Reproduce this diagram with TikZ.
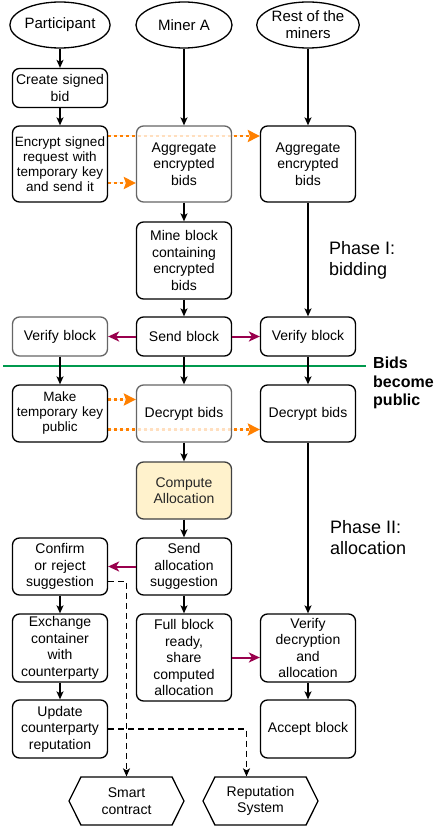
\documentclass[tikz,border=0pt]{standalone}
\usepackage{fontspec}
\setmainfont{Liberation Sans}
\usetikzlibrary{arrows.meta, shapes.geometric, shapes.symbols, backgrounds}

\definecolor{bidorange}{RGB}{255,128,0}
\definecolor{msgpurple}{RGB}{153,0,77}
\definecolor{phasegreen}{RGB}{0,153,77}
\definecolor{allocfill}{RGB}{255,242,204}

\tikzset{
  actor/.style={ellipse, draw, line width=1.3pt, minimum width=96pt, minimum height=46pt, inner sep=0pt, align=center, font=\fontsize{15}{17}\selectfont},
  task/.style={draw, line width=1.3pt, rounded corners=7pt, text width=91pt, inner sep=2pt, align=center, fill=white, font=\fontsize{14}{16.5}\selectfont},
  faded/.style={draw=black!60, fill opacity=0.75, text opacity=1},
  store/.style={signal, signal to=west and east, signal pointer angle=127, draw, line width=1.3pt, minimum width=115pt, minimum height=48pt, inner sep=0pt, align=center, font=\fontsize{14}{16.5}\selectfont},
  flow/.style={-{Stealth[length=8pt,width=7pt,inset=2pt]}, line width=1.3pt},
  msg/.style={-{Stealth[length=11pt,width=10pt,inset=3pt]}, draw=msgpurple, fill=msgpurple, line width=2pt},
  keyflow/.style={-{Stealth[length=12pt,width=12pt,inset=2pt]}, draw=bidorange, fill=bidorange, line width=2.5pt, dash pattern=on 3pt off 3pt},
  link/.style={-{Stealth[length=8pt,width=7pt,inset=2pt]}, line width=1.3pt, dash pattern=on 6pt off 4pt}
}

\begin{document}
\begin{tikzpicture}[x=1pt, y=-1pt]
  \useasboundingbox (0,0) rectangle (434,829);

  % actors
  \node[actor] (part) at (60,25) {Participant};
  \node[actor] (minA) at (184,25) {Miner A};
  \node[actor] (rest) at (308,25) {Rest of the\\miners};

  % phase I
  \node[task, minimum height=39pt] (create) at (60,88) {Create signed\\bid};
  \node[task, minimum height=76pt, font=\fontsize{13.5}{15}\selectfont] (encr) at (60,164) {Encrypt signed\\request with\\temporary key\\and send it};
  \node[task, faded, minimum height=76pt] (aggA) at (184,164) {Aggregate\\encrypted\\bids};
  \node[task, minimum height=76pt] (aggR) at (308,164) {Aggregate\\encrypted\\bids};
  \node[task, minimum height=77pt] (mine) at (184,260.5) {Mine block\\containing\\encrypted\\bids};
  \node[task, draw=black!60, minimum height=39pt] (verL) at (60,336.5) {Verify block};
  \node[task, minimum height=39pt] (send) at (184,336.5) {Send block};
  \node[task, minimum height=39pt] (verR) at (308,336.5) {Verify block};

  % phase II
  \node[task, minimum height=57pt, font=\fontsize{13.5}{15}\selectfont] (make) at (60,413.5) {Make\\temporary key\\public};
  \node[task, faded, minimum height=57pt] (decA) at (184,413.5) {Decrypt bids};
  \node[task, minimum height=57pt] (decR) at (308,413.5) {Decrypt bids};
  \node[task, draw=black!75, fill=allocfill, text=black!85, minimum height=57pt] (comp) at (184,490.5) {Compute\\Allocation};
  \node[task, minimum height=57pt] (conf) at (60,566.5) {Confirm\\or reject\\suggestion};
  \node[task, minimum height=57pt] (sall) at (184,566.5) {Send\\allocation\\suggestion};
  \node[task, minimum height=68pt] (exch) at (60,648) {Exchange\\container\\with\\counterparty};
  \node[task, minimum height=87pt] (full) at (184,657.5) {Full block\\ready,\\share\\computed\\allocation};
  \node[task, minimum height=68pt] (verd) at (308,648) {Verify\\decryption\\and\\allocation};
  \node[task, minimum height=58pt] (upd) at (60,729) {Update\\counterparty\\reputation};
  \node[task, minimum height=58pt] (acc) at (308,729) {Accept block};

  \node[store] (smart) at (126.5,801) {Smart\\contract};
  \node[store] (rep) at (260.5,801) {Reputation\\System};

  % phase labels
  \node[anchor=west, align=left, inner sep=0pt, font=\fontsize{18}{21}\selectfont] (ph1) at (329,260) {Phase I:\\bidding};
  \node[anchor=west, align=left, inner sep=0pt, font=\fontsize{18}{21}\selectfont] (ph2) at (330,538) {Phase II:\\allocation};
  \node[anchor=west, align=left, inner sep=0pt, font=\bfseries\fontsize{16}{18.5}\selectfont] (pub) at (373,383) {Bids\\become\\public};
  \draw[phasegreen, line width=1.6pt] (3,366) -- (366,366);

  % control flow
  \draw[flow] (part) -- (create);
  \draw[flow] (create) -- (encr);
  \draw[flow] (minA) -- (aggA);
  \draw[flow] (rest) -- (aggR);
  \draw[flow] (aggA) -- (mine);
  \draw[flow] (mine) -- (send);
  \draw[flow] (aggR) -- (verR);
  \draw[flow] (verL) -- (make);
  \draw[flow] (send) -- (decA);
  \draw[flow] (verR) -- (decR);
  \draw[flow] (decA) -- (comp);
  \draw[flow] (comp) -- (sall);
  \draw[flow] (sall) -- (full);
  \draw[flow] (decR) -- (verd);
  \draw[flow] (verd) -- (acc);
  \draw[flow] (conf) -- (exch);
  \draw[flow] (exch) -- (upd);

  % messages
  \draw[msg] (send) -- (verL);
  \draw[msg] (send) -- (verR);
  \draw[msg] (sall) -- (conf);
  \draw[msg] (full.east) -- (full.east -| verd.west);

  % encrypted bids and keys
  \begin{scope}[on background layer]
    \draw[keyflow] ([yshift=28pt]encr.east) -- ([yshift=28pt]encr.east -| aggR.west);
    \draw[keyflow] ([yshift=-19pt]encr.east) -- ([yshift=-19pt]encr.east -| aggA.west);
    \draw[keyflow] ([yshift=14pt]make.east) -- ([yshift=14pt]make.east -| decA.west);
    \draw[keyflow] ([yshift=-16pt]make.east) -- ([yshift=-16pt]make.east -| decR.west);
  \end{scope}

  % external systems
  \draw[link] ([yshift=-15pt]conf.east) -| (smart.north);
  \draw[link] (upd.east) -| ([xshift=-14pt]rep.north);
\end{tikzpicture}
\end{document}
